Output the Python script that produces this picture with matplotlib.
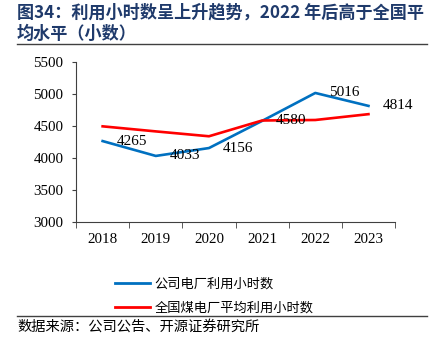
import matplotlib
matplotlib.use("Agg")
import matplotlib.pyplot as plt
from matplotlib.lines import Line2D

plt.rcParams['font.family'] = ['Noto Sans CJK SC', 'DejaVu Sans']

# --- data
years = ["2018", "2019", "2020", "2021", "2022", "2023"]
company_hours = [4265, 4033, 4156, 4580, 5016, 4814]
national_hours = [4495, 4416, 4340, 4586, 4594, 4685]
yticks = [3000, 3500, 4000, 4500, 5000, 5500]

title_1 = "图34：利用小时数呈上升趋势，2022 年后高于全国平"
title_2 = "均水平（小数）"
legend_labels = ["公司电厂利用小时数", "全国煤电厂平均利用小时数"]
source = "数据来源：公司公告、开源证券研究所"

blue = "#0070C0"
red = "#FF0000"
navy = "#1F3A6B"
serif = ["Liberation Serif", "DejaVu Serif"]

fig = plt.figure(figsize=(4.37, 3.52), dpi=100)
ax = fig.add_axes([0.174, 0.369, 0.730, 0.455])

x = list(range(len(years)))
ax.plot(x, company_hours, color=blue, lw=1.9, solid_joinstyle="round")
ax.plot(x, national_hours, color=red, lw=1.9, solid_joinstyle="round")

# data labels to the right of blue points
for xi, v in zip(x, company_hours):
    ax.annotate(str(v), (xi, v), xytext=(10, 0), textcoords="offset points",
                ha="left", va="center", fontsize=11, family=serif)

ax.set_xlim(-0.5, len(years) - 0.5)
ax.set_ylim(3000, 5500)
ax.set_yticks(yticks)
ax.set_yticklabels([str(t) for t in yticks], family=serif, fontsize=10.8)
ax.set_xticks(x)
ax.set_xticklabels(years, family=serif, fontsize=10.8)
ax.set_xticks([i - 0.5 for i in range(len(years) + 1)], minor=True)
ax.tick_params(axis="x", which="major", length=0, pad=8)
ax.tick_params(axis="x", which="minor", length=4, direction="out", color="#404040")
ax.tick_params(axis="y", length=3, direction="out", color="#404040", pad=6)
for s in ["top", "right"]:
    ax.spines[s].set_visible(False)
for s in ["left", "bottom"]:
    ax.spines[s].set_color("#404040")
    ax.spines[s].set_linewidth(0.8)

# legend
handles = [Line2D([], [], color=blue, lw=2), Line2D([], [], color=red, lw=2)]
fig.legend(handles, legend_labels, loc="upper left", bbox_to_anchor=(0.264, 0.212),
           frameon=False, fontsize=9.5, handlelength=2.6, handletextpad=0.35,
           labelspacing=0.85, borderpad=0, borderaxespad=0)

# title and source
fig.text(0.039, 0.965, title_1, fontsize=12.3, fontweight="bold", color=navy,
         ha="left", va="center")
fig.text(0.039, 0.903, title_2, fontsize=12.3, fontweight="bold", color=navy,
         ha="left", va="center")
fig.add_artist(Line2D([0.039, 0.978], [0.875, 0.875], color="#404040", lw=1.0))
fig.add_artist(Line2D([0.039, 0.978], [0.102, 0.102], color="#404040", lw=1.0))
fig.text(0.039, 0.071, source, fontsize=10.3, color="black", ha="left", va="center")

fig.savefig("out.png", dpi=100)
